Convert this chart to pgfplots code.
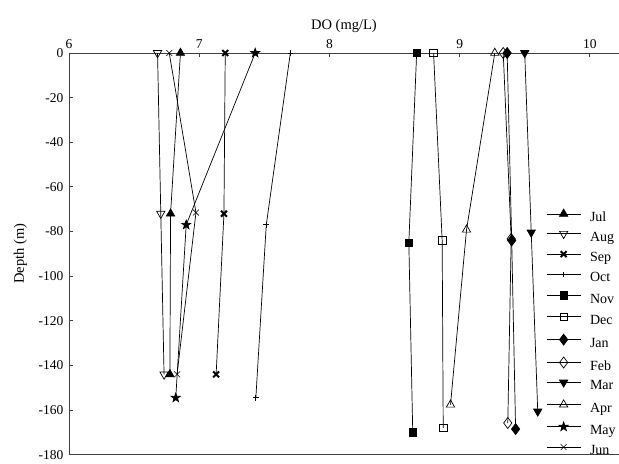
\documentclass[border=0pt]{standalone}
\usepackage{pgfplots}
\pgfplotsset{compat=1.18}
\usepackage{fontspec}
\setmainfont{Liberation Serif}
\usetikzlibrary{plotmarks}
\pgfdeclareplotmark{fstar}{%
  \pgfpathmoveto{\pgfpointpolar{90}{1.25\pgfplotmarksize}}%
  \pgfpathlineto{\pgfpointpolar{126}{0.5\pgfplotmarksize}}%
  \pgfpathlineto{\pgfpointpolar{162}{1.25\pgfplotmarksize}}%
  \pgfpathlineto{\pgfpointpolar{198}{0.5\pgfplotmarksize}}%
  \pgfpathlineto{\pgfpointpolar{234}{1.25\pgfplotmarksize}}%
  \pgfpathlineto{\pgfpointpolar{270}{0.5\pgfplotmarksize}}%
  \pgfpathlineto{\pgfpointpolar{306}{1.25\pgfplotmarksize}}%
  \pgfpathlineto{\pgfpointpolar{342}{0.5\pgfplotmarksize}}%
  \pgfpathlineto{\pgfpointpolar{18}{1.25\pgfplotmarksize}}%
  \pgfpathlineto{\pgfpointpolar{54}{0.5\pgfplotmarksize}}%
  \pgfpathclose
  \pgfusepathqfillstroke
}
\begin{document}
\begin{tikzpicture}
\begin{axis}[
  scale only axis,
  width=550pt, height=401.7pt,
  xmin=6, xmax=10.224,
  ymin=-180, ymax=0,
  axis x line*=top,
  axis y line*=left,
  axis line style={line width=0.8pt, black!75},
  tick align=inside,
  major tick length=4.5pt,
  tick style={line width=0.8pt, black!75},
  xtick={6,7,8,9,10},
  ytick={-180,-160,-140,-120,-100,-80,-60,-40,-20,0},
  /pgf/number format/assume math mode=true,
  ticklabel style={font=\fontsize{13.5}{15}\selectfont},
  xticklabel style={yshift=1pt},
  yticklabel style={xshift=-2pt},
  xlabel={DO (mg/L)},
  ylabel={Depth (m)},
  label style={font=\fontsize{14.5}{16}\selectfont},
  xlabel style={yshift=0pt},
  ylabel style={yshift=5pt},
  clip=false,
  every axis plot/.append style={black, line width=0.7pt},
  legend style={draw=none, fill=none, at={(rel axis cs:0.862,0.617)}, anchor=north west,
    font=\fontsize{14}{16}\selectfont,
    nodes={inner sep=0pt, anchor=west, text height=10pt, text depth=3pt},
    row sep=6.9pt, column sep=0pt,
    /tikz/every odd column/.append style={column sep=9pt}},
  legend cell align=left,
  legend image code/.code={\draw[mark repeat=2, mark phase=2] plot coordinates {(0pt,4pt) (17pt,4pt) (34pt,4pt)};},
]
\coordinate (ll) at (rel axis cs:0,0);
\coordinate (ur) at (rel axis cs:1,1);
% Jul
\addplot[mark=triangle*, mark size=4.8pt] coordinates {(6.856,0) (6.78,-72) (6.775,-144)};
\addlegendentry{Jul}
% Aug
\addplot[mark=triangle, mark size=4.8pt, mark options={rotate=180, fill=white}] coordinates {(6.68,0) (6.705,-72) (6.73,-144)};
\addlegendentry{Aug}
% Sep
\addplot[mark=x, mark size=4.2pt, mark options={line width=2pt}] coordinates {(7.20,0) (7.19,-72) (7.13,-144)};
\addlegendentry{Sep}
% Oct
\addplot[mark=+, mark size=2.8pt, mark options={line width=0.9pt}] coordinates {(7.70,0) (7.515,-77) (7.435,-154.5)};
\addlegendentry{Oct}
% Nov
\addplot[mark=square*, mark size=3.8pt] coordinates {(8.67,0) (8.61,-85) (8.64,-170)};
\addlegendentry{Nov}
% Dec
\addplot[mark=square, mark size=3.8pt, mark options={fill=white}] coordinates {(8.80,0) (8.866,-84) (8.874,-168)};
\addlegendentry{Dec}
% Jan
\addplot[mark=diamond*, mark size=5.5pt] coordinates {(9.365,0) (9.40,-84) (9.43,-168.5)};
\addlegendentry{Jan}
% Feb
\addplot[mark=diamond, mark size=5.5pt, mark options={fill=white}] coordinates {(9.335,0) (9.396,-83.3) (9.37,-165.8)};
\addlegendentry{Feb}
% Mar
\addplot[mark=triangle*, mark size=4.8pt, mark options={rotate=180}] coordinates {(9.50,0) (9.55,-80.4) (9.60,-160.6)};
\addlegendentry{Mar}
% Apr
\addplot[mark=triangle, mark size=4.8pt, mark options={fill=white}] coordinates {(9.27,0) (9.053,-79.2) (8.93,-157.6)};
\addlegendentry{Apr}
% May
\addplot[mark=fstar, mark size=3.8pt] coordinates {(7.43,0) (6.90,-77) (6.82,-154.5)};
\addlegendentry{May}
% Jun
\addplot[mark=x, mark size=4.2pt, mark options={line width=0.6pt}] coordinates {(6.77,0) (6.975,-71.5) (6.83,-144)};
\addlegendentry{Jun}
\draw[line width=0.8pt, black!75] (rel axis cs:0,0) -- (rel axis cs:1,0);
\end{axis}
\pgfresetboundingbox
\path[use as bounding box] ([shift={(-69pt,-9pt)}]ll) rectangle ([shift={(0pt,53pt)}]ur);
\end{tikzpicture}
\end{document}
